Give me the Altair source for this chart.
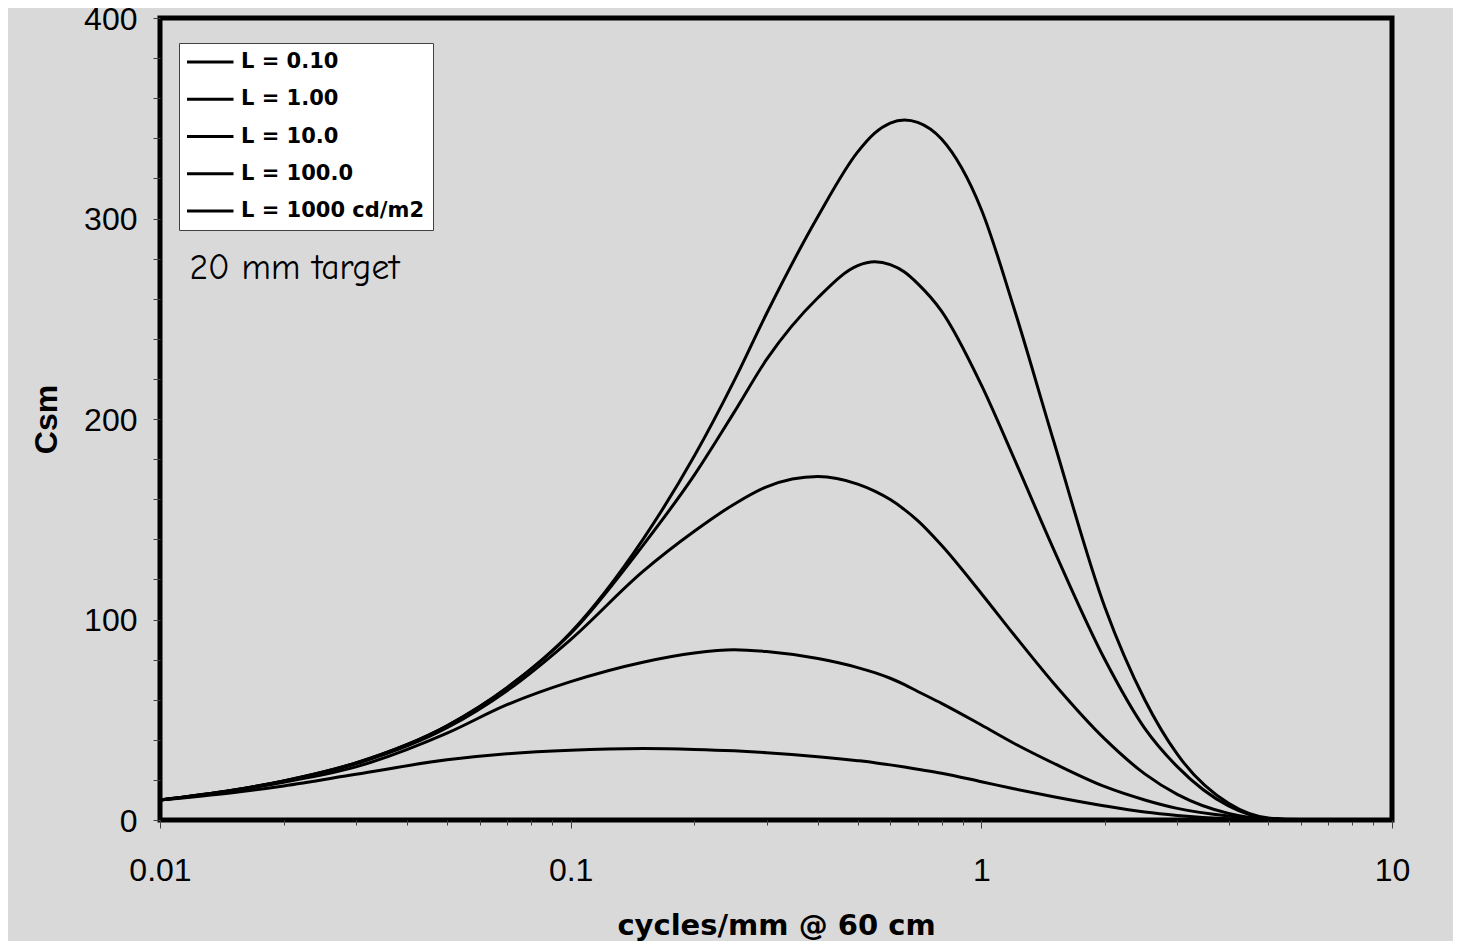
import altair as alt
import pandas as pd

# spatial frequency (cycles/mm @ 60 cm), shared sampling positions
freq = [0.01, 0.015, 0.02, 0.03, 0.05, 0.07, 0.1, 0.15, 0.2, 0.25, 0.3, 0.4, 0.5, 0.55,
        0.6, 0.65, 0.7, 0.8, 1.0, 1.2, 1.5, 2.0, 2.5, 3.0, 4.0, 5.0, 6.0, 10.0]

series_labels = ["L = 0.10", "L = 1.00", "L = 10.0", "L = 100.0", "L = 1000 cd/m2"]

csm_L0_1 = [10, 13.6, 17, 22.8, 30, 33, 34.8, 35.6, 35.2, 34.5, 33.6, 31.6, 29.6, 28.6,
            27.5, 26.4, 25.3, 23.3, 19.1, 15.6, 11.6, 7.0, 4.0, 2.3, 0.6, 0.1, 0, 0]
csm_L1 = [10, 14.5, 18.8, 26.5, 43.3, 57.5, 69, 78.7, 83.3, 84.9, 84, 80.5, 76, 73.5,
          70.7, 67.5, 64.1, 58.2, 47.4, 38.3, 28.3, 16.6, 10, 5.8, 2.0, 0.5, 0.1, 0]
csm_L10 = [10, 14.7, 19.3, 28, 46, 64.5, 90, 124, 144, 157.5, 166.2, 171.3, 167.5, 164,
           159.8, 154.8, 149.3, 137, 113, 92.5, 68.2, 40.3, 23, 12.8, 3.3, 0.5, 0.1, 0]
csm_L100 = [10, 14.8, 19.5, 28.5, 47, 66, 93, 137, 172, 203.3, 229.7, 260.5, 276.5, 278.4,
            277, 273.3, 267.5, 253.8, 217, 180.6, 135, 79.9, 45.7, 26.6, 7.0, 0.7, 0.1, 0]
csm_L1000 = [10, 14.8, 19.5, 28.5, 47, 66, 93.5, 140, 181.5, 219, 252.6, 301, 333.2, 342.6,
             347.6, 349.1, 347.9, 339.6, 304.5, 255.5, 189, 106, 60, 32.8, 8.3, 1.0, 0.2, 0]

x_ticks = [0.01, 0.02, 0.03, 0.04, 0.05, 0.06, 0.07, 0.08, 0.09,
           0.1, 0.2, 0.3, 0.4, 0.5, 0.6, 0.7, 0.8, 0.9,
           1, 2, 3, 4, 5, 6, 7, 8, 9, 10]
y_ticks = list(range(0, 401, 20))

note_text = ["20 mm target"]
note_x = [0.0118]
note_y = [270]

all_series = [csm_L0_1, csm_L1, csm_L10, csm_L100, csm_L1000]
rows = []
for lab, vals in zip(series_labels, all_series):
    for f, v in zip(freq, vals):
        rows.append({"freq": f, "csm": v, "series": lab})
df = pd.DataFrame(rows)
notes = pd.DataFrame({"x": note_x, "y": note_y, "text": note_text})

FONT = "Liberation Sans, Arial, sans-serif"
WIDE_BOLD = "DejaVu Sans, Liberation Sans, sans-serif"
decade_test = "abs(log(datum.value)/LN10 - round(log(datum.value)/LN10)) < 1e-6"

x_enc = alt.X(
    "freq:Q",
    scale=alt.Scale(type="log", domain=[0.01, 10], nice=False),
    axis=alt.Axis(
        values=x_ticks,
        labelExpr=f"{decade_test} ? format(datum.value, '~g') : ''",
        title="cycles/mm @ 60 cm",
        grid=False, domain=False,
        tickSize={"condition": {"test": decade_test, "value": 8}, "value": 5},
        tickColor="#404040", tickWidth=1,
        labelFont=FONT, labelFontSize=32, labelColor="black",
        labelPadding=27, labelFlush=False, labelOverlap=False,
        titleFont=WIDE_BOLD, titleFontSize=29, titleFontWeight="bold", titleColor="black",
        titlePadding=25,
    ),
)
y_enc = alt.Y(
    "csm:Q",
    scale=alt.Scale(domain=[0, 400], nice=False),
    axis=alt.Axis(
        values=y_ticks,
        labelExpr="datum.value % 100 == 0 ? datum.label : ''",
        title="Csm",
        grid=False, domain=False,
        tickSize=7, tickColor="#404040", tickWidth=1,
        labelFont=FONT, labelFontSize=32, labelColor="black",
        labelPadding=16, labelOverlap=False, labelOffset=1,
        titleFont=FONT, titleFontSize=32, titleFontWeight="bold", titleColor="black",
        titlePadding=20,
    ),
)

lines = alt.Chart(df).mark_line(strokeWidth=3, interpolate="monotone").encode(
    x=x_enc,
    y=y_enc,
    color=alt.Color(
        "series:N",
        sort=series_labels,
        scale=alt.Scale(domain=series_labels, range=["black"] * 5),
        legend=alt.Legend(
            title=None,
            orient="none", legendX=19, legendY=25,
            fillColor="white", strokeColor="#404040",
            padding=8, clipHeight=22, rowPadding=15.25,
            symbolType="stroke", symbolSize=2304, symbolStrokeWidth=3,
            symbolOffset=-3,
            labelFont=WIDE_BOLD, labelFontSize=21, labelFontWeight="bold",
            labelColor="black", labelOffset=6, labelLimit=400,
        ),
    ),
)

note = alt.Chart(notes).mark_text(
    align="left", baseline="alphabetic", fontSize=35.5,
    font="Comic Sans MS, Comic Neue, Open Sans, sans-serif", color="black",
).encode(x="x:Q", y="y:Q", text="text:N")

chart = (
    alt.layer(lines, note)
    .properties(
        width=1232, height=802,
        autosize=alt.AutoSizeParams(type="none"),
        padding={"left": 152, "top": 10, "right": 61, "bottom": 121},
        background="#D9D9D9",
    )
    .configure_view(stroke="black", strokeWidth=5)
)

chart.save("out.html", embed_options={"renderer": "svg", "actions": False})
